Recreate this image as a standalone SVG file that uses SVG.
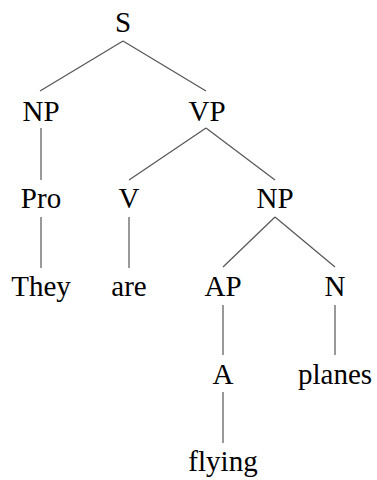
<svg xmlns="http://www.w3.org/2000/svg" width="377" height="480" viewBox="0 0 377 480">
<style>
text{font-family:"Liberation Serif","Times New Roman",serif;font-size:29px;fill:#000;text-anchor:middle}
.e line{stroke:#555;stroke-width:1.2;fill:none}
</style>
<rect width="377" height="480" fill="#fff"/>
<g id="connectors" class="e">
<line x1="123" y1="41" x2="40" y2="91"/>
<line x1="123" y1="41" x2="206" y2="91"/>
<line x1="41" y1="128" x2="41" y2="180"/>
<line x1="206" y1="128" x2="129" y2="180"/>
<line x1="206" y1="128" x2="275" y2="180"/>
<line x1="41" y1="217" x2="41" y2="268"/>
<line x1="129" y1="217" x2="129" y2="268"/>
<line x1="275" y1="217" x2="223" y2="267"/>
<line x1="275" y1="217" x2="335" y2="267"/>
<line x1="223" y1="305" x2="223" y2="355"/>
<line x1="335" y1="305" x2="335" y2="355"/>
<line x1="223" y1="392" x2="223" y2="443"/>
</g>
<g id="S"><text x="123" y="32">S</text></g>
<g id="NP1"><text x="41" y="121">NP</text></g>
<g id="VP"><text x="207" y="121">VP</text></g>
<g id="Pro"><text x="41" y="208">Pro</text></g>
<g id="V"><text x="129" y="208">V</text></g>
<g id="NP2"><text x="275" y="208">NP</text></g>
<g id="They"><text x="41" y="296">They</text></g>
<g id="are"><text x="129" y="296">are</text></g>
<g id="AP"><text x="223" y="296">AP</text></g>
<g id="N"><text x="335" y="296">N</text></g>
<g id="A"><text x="223" y="384">A</text></g>
<g id="planes"><text x="335" y="384">planes</text></g>
<g id="flying"><text x="223" y="471">flying</text></g>
</svg>
